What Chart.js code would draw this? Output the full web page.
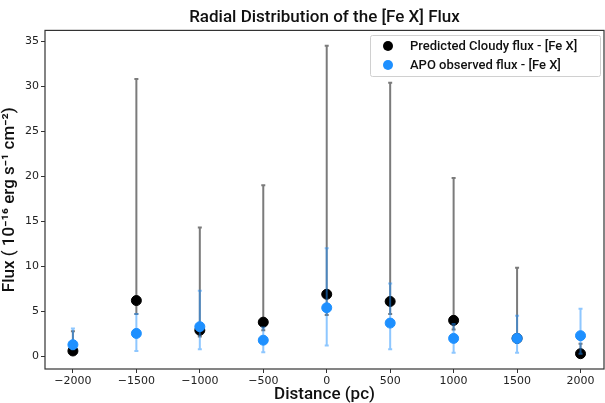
<!DOCTYPE html>
<html>
<head>
<meta charset="utf-8">
<script src="https://cdn.jsdelivr.net/npm/chart.js@4"></script>
<style>
  html, body { margin: 0; padding: 0; background: #fff; }
  #wrap { width: 605px; height: 403px; }
</style>
</head>
<body>
<div id="wrap"><canvas id="fluxChart"></canvas></div>
<script>
// Radial distribution data
const distances = [-2000, -1500, -1000, -500, 0, 500, 1000, 1500, 2000];

const cloudyFlux = [0.6, 6.2, 2.9, 3.8, 6.9, 6.1, 4.0, 2.0, 0.3];
const cloudyLow  = [0.4, 4.7, 2.2, 2.9, 4.6, 4.7, 3.0, 1.6, 0.2];
const cloudyHigh = [2.8, 30.8, 14.3, 19.0, 34.5, 30.4, 19.8, 9.85, 1.4];

const apoFlux = [1.3, 2.55, 3.3, 1.8, 5.4, 3.7, 2.0, 2.0, 2.3];
const apoLow  = [0.8, 0.6, 0.8, 0.45, 1.2, 0.8, 0.4, 0.4, 0.3];
const apoHigh = [3.1, 4.7, 7.3, 3.2, 12.0, 8.1, 3.6, 4.5, 5.3];

const xTicks = [-2000, -1500, -1000, -500, 0, 500, 1000, 1500, 2000];
const yTicks = [0, 5, 10, 15, 20, 25, 30, 35];

const seriesLabels = ['Predicted Cloudy flux - [Fe X]', 'APO observed flux - [Fe X]'];

const toPoints = vals => distances.map((d, i) => ({ x: d, y: vals[i] }));
const minus = v => String(v).replace('-', '\u2212');

// error bars drawn just before each dataset's points
const errorBars = {
    id: 'errorBars',
    beforeDatasetDraw(chart, args) {
        const ds = chart.data.datasets[args.index];
        if (!ds.errLow) return;
        const { ctx, scales: { x, y } } = chart;
        ctx.save();
        ctx.strokeStyle = ds.errColor;
        ctx.lineWidth = ds.errWidth;
        distances.forEach((d, i) => {
            const px = x.getPixelForValue(d);
            const lo = y.getPixelForValue(ds.errLow[i]);
            const hi = y.getPixelForValue(ds.errHigh[i]);
            ctx.beginPath();
            ctx.moveTo(px, lo);
            ctx.lineTo(px, hi);
            ctx.moveTo(px - 2, lo);
            ctx.lineTo(px + 2, lo);
            ctx.moveTo(px - 2, hi);
            ctx.lineTo(px + 2, hi);
            ctx.stroke();
        });
        ctx.restore();
    }
};

// frame + legend box inside the plot
const frameAndLegend = {
    id: 'frameAndLegend',
    afterDraw(chart) {
        const { ctx, chartArea: a } = chart;
        ctx.save();
        ctx.strokeStyle = '#333';
        ctx.lineWidth = 1.2;
        ctx.strokeRect(a.left, a.top, a.right - a.left, a.bottom - a.top);

        const bx = 370, by = 35, bw = 230, bh = 41;
        ctx.fillStyle = 'rgba(255,255,255,0.9)';
        ctx.strokeStyle = '#d0d0d0';
        ctx.lineWidth = 1;
        ctx.beginPath();
        ctx.roundRect(bx + 0.5, by + 0.5, bw, bh, 2);
        ctx.fill();
        ctx.stroke();

        const colors = ['#000000', '#1e90ff'];
        ctx.font = '500 13px Roboto';
        ctx.textBaseline = 'middle';
        seriesLabels.forEach((lab, i) => {
            const cy = by + 11 + i * 19;
            ctx.fillStyle = colors[i];
            ctx.beginPath();
            ctx.arc(bx + 18, cy, 5, 0, Math.PI * 2);
            ctx.fill();
            ctx.fillStyle = '#111';
            ctx.fillText(lab, bx + 40, cy + 1);
        });
        ctx.restore();
    }
};

new Chart(document.getElementById('fluxChart'), {
    type: 'scatter',
    data: {
        datasets: [
            {
                label: seriesLabels[0],
                data: toPoints(cloudyFlux),
                backgroundColor: '#000000',
                borderColor: '#000000',
                pointRadius: 5,
                order: 1,
                errLow: cloudyLow,
                errHigh: cloudyHigh,
                errColor: 'rgba(100,100,100,0.85)',
                errWidth: 2
            },
            {
                label: seriesLabels[1],
                data: toPoints(apoFlux),
                backgroundColor: '#1e90ff',
                borderColor: '#1e90ff',
                pointRadius: 5,
                order: 0,
                errLow: apoLow,
                errHigh: apoHigh,
                errColor: 'rgba(30,144,255,0.5)',
                errWidth: 2
            }
        ]
    },
    options: {
        responsive: true,
        maintainAspectRatio: false,
        animation: false,
        layout: { autoPadding: false, padding: { left: 0, right: 1, top: 0, bottom: 0 } },
        plugins: {
            legend: { display: false },
            tooltip: { enabled: false },
            title: {
                display: true,
                fullSize: false,
                text: 'Radial Distribution of the [Fe X] Flux',
                color: '#111',
                font: { family: 'Roboto', size: 17, weight: '500' },
                padding: { top: 8, bottom: 2 }
            }
        },
        scales: {
            x: {
                type: 'linear',
                min: -2220,
                max: 2185,
                afterBuildTicks: axis => { axis.ticks = xTicks.map(v => ({ value: v })); },
                afterFit: axis => { axis.height = 34; },
                grid: { display: true, drawOnChartArea: false, drawTicks: true, tickLength: 4, color: '#333' },
                border: { display: false },
                ticks: {
                    color: '#222',
                    padding: 2,
                    maxRotation: 0,
                    font: { family: 'DejaVu Sans', size: 11 },
                    callback: v => minus(v)
                },
                title: {
                    display: true,
                    text: 'Distance (pc)',
                    color: '#111',
                    font: { family: 'Roboto', size: 17, weight: '500' },
                    padding: { top: 2, bottom: -2 }
                }
            },
            y: {
                type: 'linear',
                min: -1.4,
                max: 36.2,
                afterBuildTicks: axis => { axis.ticks = yTicks.map(v => ({ value: v })); },
                afterFit: axis => { axis.width = 45; },
                grid: { display: true, drawOnChartArea: false, drawTicks: true, tickLength: 4, color: '#333' },
                border: { display: false },
                ticks: {
                    color: '#222',
                    padding: 2,
                    font: { family: 'DejaVu Sans', size: 11 },
                    callback: v => minus(v)
                },
                title: {
                    display: true,
                    text: 'Flux ( 10\u207B\u00B9\u2076 erg s\u207B\u00B9 cm\u207B\u00B2)',
                    color: '#111',
                    font: { family: 'Roboto', size: 17, weight: '500' },
                    padding: { top: 0, bottom: 0 }
                }
            }
        }
    },
    plugins: [errorBars, frameAndLegend]
});
</script>
</body>
</html>
